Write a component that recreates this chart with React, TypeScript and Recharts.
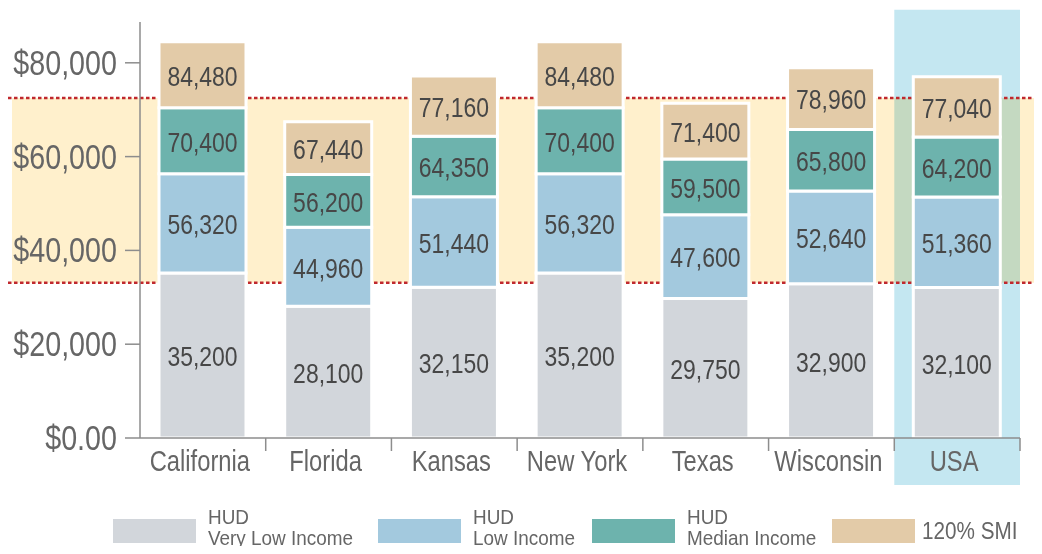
import React from "react";
import { BarChart, Bar, XAxis, YAxis, ReferenceArea, LabelList } from "recharts";

const CATEGORIES = ["California", "Florida", "Kansas", "New York", "Texas", "Wisconsin", "USA"];
const VERY_LOW = [35200, 28100, 32150, 35200, 29750, 32900, 32100];
const LOW = [56320, 44960, 51440, 56320, 47600, 52640, 51360];
const MEDIAN = [70400, 56200, 64350, 70400, 59500, 65800, 64200];
const SMI120 = [84480, 67440, 77160, 84480, 71400, 78960, 77040];
const BAND_LOW = 33100;
const BAND_HIGH = 72500;
const HIGHLIGHT = "USA";
const Y_TICKS = [0, 20000, 40000, 60000, 80000];
const Y_TICK_LABELS = ["$0.00", "$20,000", "$40,000", "$60,000", "$80,000"];
const LEGEND = [
  { l1: "HUD", l2: "Very Low Income", color: "#d2d6db" },
  { l1: "HUD", l2: "Low Income", color: "#a3c9de" },
  { l1: "HUD", l2: "Median Income", color: "#6db3ad" },
  { l1: "120% SMI", l2: "", color: "#e3cba8" },
];

const COLORS = { vli: "#d2d6db", low: "#a3c9de", med: "#6db3ad", smi: "#e3cba8" };
const FONT = '"Liberation Sans", Arial, sans-serif';
const SQUEEZE = 0.82;

const rows = CATEGORIES.map((name, i) => ({
  name,
  vli: VERY_LOW[i],
  low: LOW[i] - VERY_LOW[i],
  med: MEDIAN[i] - LOW[i],
  smi: SMI120[i] - MEDIAN[i],
  vliLabel: VERY_LOW[i],
  lowLabel: LOW[i],
  medLabel: MEDIAN[i],
  smiLabel: SMI120[i],
}));

const fmt = (v: number) => v.toLocaleString("en-US");

const NText = (p: any) => (
  <text
    transform={`translate(${p.x} ${p.y}) scale(${SQUEEZE} 1)`}
    textAnchor={p.anchor || "middle"}
    dominantBaseline={p.baseline || "auto"}
    fontFamily={FONT}
    fontSize={p.size}
    fill={p.fill}
  >
    {p.children}
  </text>
);

const renderLabel = (props: any) => {
  const { x, y, width, height, value } = props;
  return (
    <NText
      x={Number(x) + Number(width) / 2}
      y={Number(y) + Number(height) / 2 + 1}
      baseline="central"
      size={28}
      fill="#474747"
    >
      {fmt(Number(value))}
    </NText>
  );
};

const XTick = (props: any) => {
  const { x, y, payload } = props;
  const half = payload && payload.offset ? payload.offset : 880 / 7 / 2;
  return (
    <g>
      <line x1={x + half} x2={x + half} y1={y} y2={y + 13} stroke="#8d8d8d" strokeWidth={1.5} />
      <NText x={x - 3} y={y + 33} size={29} fill="#666">
        {payload.value}
      </NText>
    </g>
  );
};

const YTick = (props: any) => {
  const { x, y, payload } = props;
  return (
    <NText x={x} y={y} anchor="end" baseline="central" size={35} fill="#666">
      {Y_TICK_LABELS[Y_TICKS.indexOf(payload.value)]}
    </NText>
  );
};

const BandShape = (props: any) => {
  const { y, height } = props;
  const dot = { stroke: "#c0282d", strokeWidth: 2.5, strokeDasharray: "3.5 2.5" };
  return (
    <g>
      <rect x={12} y={y} width={1042 - 12} height={height} fill="#fff0cc" style={{ mixBlendMode: "multiply" }} />
      <line x1={8} x2={1042} y1={y} y2={y} {...dot} />
      <line x1={8} x2={1042} y1={y + height} y2={y + height} {...dot} />
    </g>
  );
};

const legendSqueeze: React.CSSProperties = {
  display: "inline-block",
  transform: "scaleX(0.9)",
  transformOrigin: "left center",
  whiteSpace: "nowrap",
};

export default function App() {
  return (
    <div style={{ position: "relative", width: 1042, height: 554, margin: -8, background: "#fff" }}>
      <BarChart
        width={1042}
        height={554}
        data={rows}
        margin={{ top: 22, right: 22, bottom: 76, left: 0 }}
        barSize={87}
      >
        <ReferenceArea
          x1={HIGHLIGHT}
          x2={HIGHLIGHT}
          y1={-10000}
          y2={91300}
          ifOverflow="visible"
          fill="#c4e7f1"
          fillOpacity={1}
          stroke="none"
          zIndex={-30}
        />
        <ReferenceArea
          y1={BAND_LOW}
          y2={BAND_HIGH}
          ifOverflow="visible"
          shape={BandShape}
          zIndex={-20}
        />
        <XAxis
          dataKey="name"
          axisLine={{ stroke: "#8d8d8d", strokeWidth: 1.5 }}
          tickLine={false}
          tickSize={0}
          tickMargin={0}
          height={40}
          interval={0}
          tick={XTick}
        />
        <YAxis
          width={140}
          domain={[0, 88700]}
          ticks={Y_TICKS}
          interval={0}
          allowDataOverflow
          axisLine={{ stroke: "#8d8d8d", strokeWidth: 1.5 }}
          tickLine={{ stroke: "#8d8d8d", strokeWidth: 1.5 }}
          tickSize={15}
          tickMargin={8}
          tick={YTick}
        />
        <Bar dataKey="vli" stackId="a" fill={COLORS.vli} stroke="#fff" strokeWidth={3} isAnimationActive={false}>
          <LabelList dataKey="vliLabel" position="center" content={renderLabel} />
        </Bar>
        <Bar dataKey="low" stackId="a" fill={COLORS.low} stroke="#fff" strokeWidth={3} isAnimationActive={false}>
          <LabelList dataKey="lowLabel" position="center" content={renderLabel} />
        </Bar>
        <Bar dataKey="med" stackId="a" fill={COLORS.med} stroke="#fff" strokeWidth={3} isAnimationActive={false}>
          <LabelList dataKey="medLabel" position="center" content={renderLabel} />
        </Bar>
        <Bar dataKey="smi" stackId="a" fill={COLORS.smi} stroke="#fff" strokeWidth={3} isAnimationActive={false}>
          <LabelList dataKey="smiLabel" position="center" content={renderLabel} />
        </Bar>
      </BarChart>
      {LEGEND.map((item, i) => {
        const lefts = [113, 378, 592, 832];
        return (
          <div key={i} style={{ position: "absolute", left: lefts[i], top: 519, display: "flex", alignItems: "center" }}>
            <div style={{ width: 83, height: 24, background: item.color }} />
            <div
              style={{
                marginLeft: i === 3 ? 7 : 12,
                fontFamily: FONT,
                fontSize: 21,
                lineHeight: "21px",
                color: "#666",
                height: 24,
                position: "relative",
              }}
            >
              {item.l2 ? (
                <div style={{ position: "absolute", top: -13, left: 0, whiteSpace: "nowrap" }}>
                  <div><span style={legendSqueeze}>{item.l1}</span></div>
                  <div><span style={legendSqueeze}>{item.l2}</span></div>
                </div>
              ) : (
                <div style={{ whiteSpace: "nowrap", lineHeight: "24px", fontSize: 23 }}>
                  <span style={legendSqueeze}>{item.l1}</span>
                </div>
              )}
            </div>
          </div>
        );
      })}
    </div>
  );
}
